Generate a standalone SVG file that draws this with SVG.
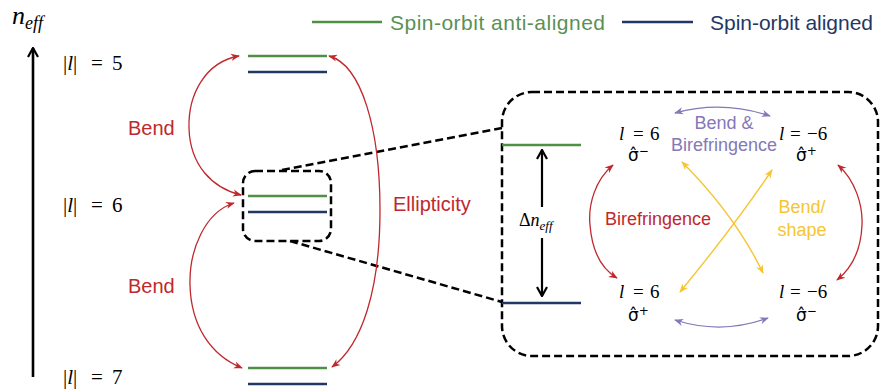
<svg xmlns="http://www.w3.org/2000/svg" width="880" height="392" viewBox="0 0 880 392">
<style>
.sans{font-family:"Liberation Sans",Arial,sans-serif}
.math{font-family:"Liberation Serif","DejaVu Serif",serif}
.it{font-style:italic}
.green{stroke:#4f8f46;stroke-width:2.5;fill:none}
.navy{stroke:#1f3864;stroke-width:2.5;fill:none}
.dash{stroke:#000;stroke-width:2.5;fill:none;stroke-dasharray:8 4}
.red{stroke:#c0282d;stroke-width:1.3;fill:none;marker-start:url(#ar);marker-end:url(#ar)}
.pur{stroke:#8478b8;stroke-width:1.3;fill:none;marker-start:url(#ap);marker-end:url(#ap)}
.yel{stroke:#f5c534;stroke-width:1.4;fill:none;marker-start:url(#ay);marker-end:url(#ay)}
.sig{font-family:"DejaVu Sans",sans-serif;font-size:17px}
</style>
<defs>
<marker id="ar" viewBox="0 0 10 10" refX="9" refY="5" markerUnits="userSpaceOnUse" markerWidth="9" markerHeight="9" orient="auto-start-reverse"><path d="M0,1 L10,5 L0,9 L3,5 z" fill="#c0282d"/></marker>
<marker id="ap" viewBox="0 0 10 10" refX="9" refY="5" markerUnits="userSpaceOnUse" markerWidth="9" markerHeight="9" orient="auto-start-reverse"><path d="M0,1 L10,5 L0,9 L3,5 z" fill="#8478b8"/></marker>
<marker id="ay" viewBox="0 0 10 10" refX="9" refY="5" markerUnits="userSpaceOnUse" markerWidth="9" markerHeight="9" orient="auto-start-reverse"><path d="M0,1 L10,5 L0,9 L3,5 z" fill="#f5c534"/></marker>
<marker id="ak" viewBox="0 0 12 12" refX="11" refY="6" markerUnits="userSpaceOnUse" markerWidth="12" markerHeight="12" orient="auto-start-reverse"><path d="M2,1 L11,6 L2,11" fill="none" stroke="#000" stroke-width="2.2"/></marker>
</defs>

<!-- legend -->
<g id="legend">
<line x1="312" y1="22" x2="382" y2="22" class="green"/>
<text x="390" y="30" class="sans" font-size="21" fill="#5a9153" textLength="215">Spin-orbit anti-aligned</text>
<line x1="622" y1="22" x2="693" y2="22" class="navy"/>
<text x="710" y="30" class="sans" font-size="21" fill="#1f3864" textLength="163">Spin-orbit aligned</text>
</g>

<!-- axis -->
<g id="axis">
<line x1="33" y1="377" x2="33" y2="48" stroke="#000" stroke-width="2.6" marker-end="url(#ak)"/>
<text x="12" y="24" class="math it" font-size="26">n<tspan font-size="18" dy="5">eff</tspan></text>
</g>

<!-- level labels -->
<g id="label5"><text x="63" y="70" class="math" font-size="21">|<tspan class="it">l</tspan>|<tspan x="91">=</tspan><tspan x="112">5</tspan></text></g>
<g id="label6"><text x="63" y="212" class="math" font-size="21">|<tspan class="it">l</tspan>|<tspan x="91">=</tspan><tspan x="112">6</tspan></text></g>
<g id="label7"><text x="63" y="384" class="math" font-size="21">|<tspan class="it">l</tspan>|<tspan x="91">=</tspan><tspan x="112">7</tspan></text></g>

<!-- levels -->
<g id="level5">
<line x1="248" y1="56" x2="327" y2="56" class="green"/>
<line x1="248" y1="72" x2="327" y2="72" class="navy"/>
</g>
<g id="level6">
<rect x="243" y="171" width="88" height="70" rx="12" class="dash"/>
<line x1="248" y1="196" x2="327" y2="196" class="green"/>
<line x1="248" y1="212" x2="327" y2="212" class="navy"/>
</g>
<g id="level7">
<line x1="248" y1="368" x2="327" y2="368" class="green"/>
<line x1="248" y1="384" x2="327" y2="384" class="navy"/>
</g>

<!-- zoom panel -->
<g id="zoompanel">
<rect x="502" y="92" width="376" height="264" rx="30" class="dash"/>
<line x1="502" y1="145" x2="581" y2="145" class="green"/>
<line x1="502" y1="303" x2="581" y2="303" class="navy"/>
<line x1="542" y1="207" x2="542" y2="150" stroke="#000" stroke-width="2.2" marker-end="url(#ak)"/>
<line x1="542" y1="238" x2="542" y2="296" stroke="#000" stroke-width="2.2" marker-end="url(#ak)"/>
<text x="519" y="226" class="math" font-size="18">Δ<tspan class="it">n</tspan><tspan class="it" font-size="13" dy="4">eff</tspan></text>
</g>

<g id="state-tl">
<text x="619" y="140" class="math" font-size="19"><tspan class="it">l</tspan><tspan x="633">=</tspan><tspan x="650">6</tspan></text>
<text x="628" y="161" class="sig">σ̂<tspan font-size="12" dy="-6">−</tspan></text>
</g>
<g id="state-tr">
<text x="779" y="140" class="math" font-size="19"><tspan class="it">l</tspan><tspan x="790">=</tspan><tspan x="807">−6</tspan></text>
<text x="796" y="161" class="sig">σ̂<tspan font-size="12" dy="-6">+</tspan></text>
</g>
<g id="state-bl">
<text x="619" y="298" class="math" font-size="19"><tspan class="it">l</tspan><tspan x="633">=</tspan><tspan x="650">6</tspan></text>
<text x="628" y="321" class="sig">σ̂<tspan font-size="12" dy="-6">+</tspan></text>
</g>
<g id="state-br">
<text x="779" y="298" class="math" font-size="19"><tspan class="it">l</tspan><tspan x="790">=</tspan><tspan x="807">−6</tspan></text>
<text x="796" y="321" class="sig">σ̂<tspan font-size="12" dy="-6">−</tspan></text>
</g>

<!-- connectors -->
<g id="connectors">
<line x1="282" y1="170" x2="502" y2="128" class="dash"/>
<line x1="290" y1="241" x2="502" y2="302" class="dash"/>
<path d="M239,56 C205,62 188,95 189,128 C190,165 212,188 241,195" class="red"/>
<path d="M234,203 C205,212 189,250 190,285 C191,325 210,355 242,368" class="red"/>
<path d="M329,56 C362,65 380,130 380,210 C380,290 362,345 332,367" class="red"/>
<path d="M613,165 C595,180 588,205 590,225 C592,250 600,268 617,278" class="red"/>
<path d="M838,165 C855,180 863,205 862,225 C861,250 852,268 837,280" class="red"/>
<path d="M675,113 Q722,100 770,116" class="pur"/>
<path d="M675,320 Q722,335 768,318" class="pur"/>
<path d="M682,162 Q735,215 763,273" class="yel"/>
<path d="M772,170 Q735,225 680,292" class="yel"/>
</g>

<!-- connector labels -->
<g id="labels" class="sans">
<text x="128" y="135" font-size="20" fill="#c0282d">Bend</text>
<text x="128" y="293" font-size="20" fill="#c0282d">Bend</text>
<text x="393" y="211" font-size="20" fill="#c0282d">Ellipticity</text>
<text x="605" y="225" font-size="18" fill="#c0282d">Birefringence</text>
<text x="724" y="129" font-size="18" fill="#8478b8" text-anchor="middle">Bend &amp;</text>
<text x="724" y="151" font-size="18" fill="#8478b8" text-anchor="middle">Birefringence</text>
<text x="802" y="213" font-size="18" fill="#f5c534" text-anchor="middle">Bend/</text>
<text x="802" y="236" font-size="18" fill="#f5c534" text-anchor="middle">shape</text>
</g>
</svg>
